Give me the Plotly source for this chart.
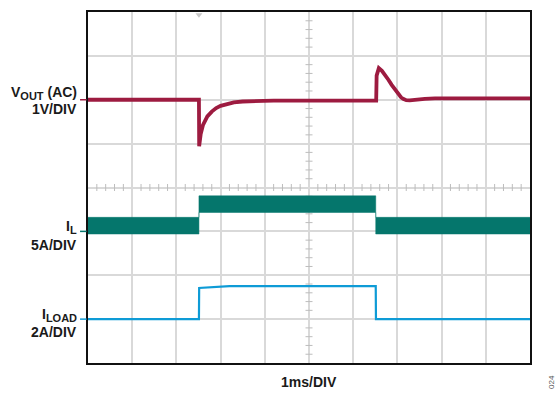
import plotly.graph_objects as go

# ---- channel data (time in ms) ----
# V_OUT (AC), volts
vout_t = [0, 2.51, 2.515, 2.55, 2.60, 2.65, 2.70, 2.80, 2.90, 3.00, 3.15, 3.30, 3.50, 3.75,
          4.20, 5.00, 6.52, 6.53, 6.58, 6.65, 6.72, 6.80, 6.87, 6.95, 7.02, 7.08, 7.13,
          7.20, 7.28, 7.40, 7.62, 7.85, 10]
vout_v = [0.0, 0.0, -1.06, -0.78, -0.58, -0.46, -0.38, -0.27, -0.19, -0.14, -0.09, -0.06,
          -0.04, -0.03, -0.02, -0.02, -0.02, 0.55, 0.72, 0.66, 0.57, 0.45, 0.34, 0.22, 0.13,
          0.06, 0.02, -0.01, -0.015, 0.0, 0.02, 0.03, 0.03]

# I_L ripple envelope, amps
il_t = [0, 2.51, 2.51, 6.51, 6.51, 10]
il_max = [1.6, 1.6, 4.05, 4.05, 1.6, 1.6]
il_min = [-0.3, -0.3, 2.15, 2.15, -0.3, -0.3]

# I_LOAD, amps
iload_t = [0, 2.51, 2.515, 2.70, 2.90, 3.20, 6.51, 6.515, 10]
iload_a = [0.0, 0.0, 1.42, 1.44, 1.48, 1.50, 1.50, 0.0, 0.0]

# scope settings: volts/amps per division and ground position (divisions from bottom)
VOUT_SCALE, VOUT_POS = 1.0, 6
IL_SCALE, IL_POS = 5.0, 3
ILOAD_SCALE, ILOAD_POS = 2.0, 1

X_DIVS, Y_DIVS = 10, 8

VOUT_COLOR = "#9d1b40"
IL_COLOR = "#05766c"
ILOAD_COLOR = "#0e9bd6"


def to_div(vals, scale, pos):
    return [v / scale + pos for v in vals]


def sub(txt):
    return f"<sub><span style='font-size:11px'>{txt}</span></sub>"


fig = go.Figure()

# center-axis minor ticks (5 per division)
cx = [k / 5 for k in range(1, X_DIVS * 5) if k % 5]
cy = [k / 5 for k in range(1, Y_DIVS * 5) if k % 5]
fig.add_trace(go.Scatter(x=cx, y=[Y_DIVS / 2] * len(cx), mode="markers",
                         marker=dict(symbol="line-ns", size=5, line=dict(color="#bdbdbd", width=1)),
                         hoverinfo="skip", showlegend=False))
fig.add_trace(go.Scatter(x=[X_DIVS / 2] * len(cy), y=cy, mode="markers",
                         marker=dict(symbol="line-ew", size=5, line=dict(color="#bdbdbd", width=1)),
                         hoverinfo="skip", showlegend=False))

# I_L ripple band
fig.add_trace(go.Scatter(x=il_t, y=to_div(il_min, IL_SCALE, IL_POS), mode="lines",
                         line=dict(color=IL_COLOR, width=0.5), hoverinfo="skip", showlegend=False))
fig.add_trace(go.Scatter(x=il_t, y=to_div(il_max, IL_SCALE, IL_POS), mode="lines",
                         line=dict(color=IL_COLOR, width=0.5), fill="tonexty", fillcolor=IL_COLOR,
                         hoverinfo="skip", showlegend=False))

# I_LOAD
fig.add_trace(go.Scatter(x=iload_t, y=to_div(iload_a, ILOAD_SCALE, ILOAD_POS), mode="lines",
                         line=dict(color=ILOAD_COLOR, width=2.2), hoverinfo="skip", showlegend=False))

# V_OUT
fig.add_trace(go.Scatter(x=vout_t, y=to_div(vout_v, VOUT_SCALE, VOUT_POS), mode="lines",
                         line=dict(color=VOUT_COLOR, width=3.8), hoverinfo="skip", showlegend=False))

# trigger marker at top
fig.add_trace(go.Scatter(x=[2.51], y=[Y_DIVS - 0.06], mode="markers", cliponaxis=False,
                         marker=dict(symbol="triangle-down", size=6, color="#c8c8c8"),
                         hoverinfo="skip", showlegend=False))

# channel ground markers on the left edge
for pos, col in [(VOUT_POS, VOUT_COLOR), (IL_POS, IL_COLOR), (ILOAD_POS, ILOAD_COLOR)]:
    fig.add_shape(type="line", xref="paper", yref="y", x0=-0.018, x1=-0.003, y0=pos, y1=pos,
                  line=dict(color=col, width=1.5))

label_font = dict(family="Liberation Sans, Arial, sans-serif", size=14, color="#1a1a1a")
labels = [
    (f"<b>V{sub('OUT')} (AC)</b>", 6.16),
    ("<b>1V/DIV</b>", 5.78),
    (f"<b>I{sub('L')}</b>", 3.10),
    ("<b>5A/DIV</b>", 2.69),
    (f"<b>I{sub('LOAD')}</b>", 1.09),
    ("<b>2A/DIV</b>", 0.71),
]
for txt, yv in labels:
    fig.add_annotation(x=0, xref="paper", y=yv, yref="y", text=txt, showarrow=False,
                       xanchor="right", yanchor="middle", xshift=-9, font=label_font)

fig.add_annotation(x=0.5, xref="paper", y=-0.055, yref="paper", text="<b>1ms/DIV</b>",
                   showarrow=False, xanchor="center", yanchor="middle", font=label_font)
fig.add_annotation(x=1.049, xref="paper", y=-0.055, yref="paper", text="024", textangle=-90,
                   showarrow=False, xanchor="center", yanchor="middle",
                   font=dict(family="Liberation Sans, Arial, sans-serif", size=8, color="#555555"))

axis_common = dict(showticklabels=False, ticks="", zeroline=False, showgrid=True,
                   gridcolor="#d9d9d9", gridwidth=1.5, showline=True, mirror=True,
                   linecolor="#111111", linewidth=1.5, dtick=1, tick0=0, fixedrange=True)
fig.update_xaxes(range=[0, X_DIVS], **axis_common)
fig.update_yaxes(range=[0, Y_DIVS], **axis_common)

fig.update_layout(width=559, height=394, margin=dict(l=88, r=29, t=10, b=31),
                  plot_bgcolor="white", paper_bgcolor="white", showlegend=False)

fig.write_html("out.html")
